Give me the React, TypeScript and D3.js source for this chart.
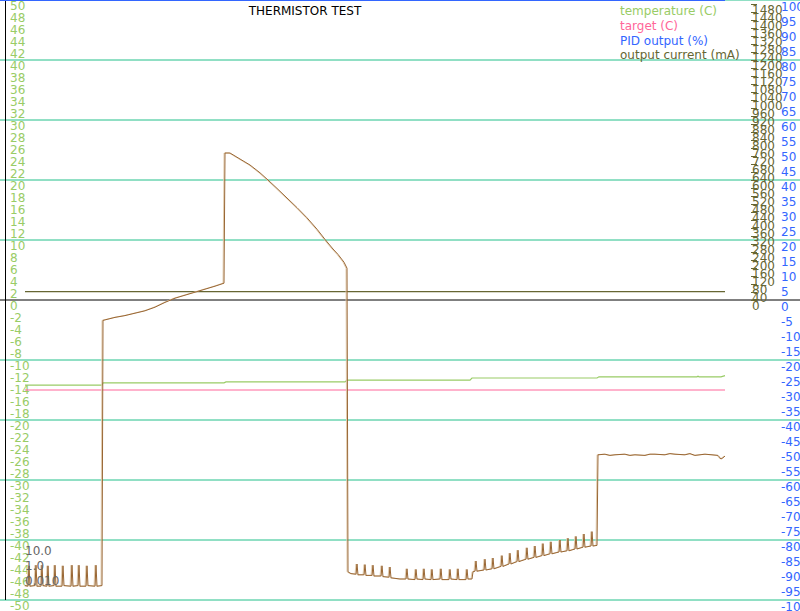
import React from "react";
import * as d3 from "d3";

// time axis is in samples, plotted 1:1 across the 800px canvas
const brownSeries: [number, number][] = [
  [25, -47.6], [28, -47.7], [29, -44.3], [30, -47.7], [35, -47.6], [36, -44.2], [37, -47.7],
  [41, -47.7], [42, -44.2], [43, -47.6], [47, -47.7], [48, -44.3], [49, -47.7],
  [54, -47.6], [55, -44.2], [56, -47.7], [62, -47.7], [63, -44.3], [64, -47.6],
  [71, -47.7], [72, -44.2], [73, -47.7], [78, -47.6], [79, -44.2], [80, -47.7],
  [86, -47.7], [87, -44.3], [88, -47.6], [95, -47.7], [96, -44.2], [97, -47.7], [102, -47.6],
  [103, -3.4], [115, -2.9], [125, -2.6], [135, -2.2], [145, -1.8], [155, -1.2], [165, -0.4],
  [175, 0.3], [185, 0.8], [195, 1.3], [205, 1.8], [215, 2.3], [224, 2.8],
  [225, 24.5], [230, 24.5], [240, 23.5], [250, 22.5], [260, 21.2], [268, 20.0], [277, 18.6],
  [287, 17.0], [297, 15.4], [307, 13.7], [317, 11.8], [325, 10.1], [333, 8.5], [338, 7.6],
  [344, 6.3], [347, 5.3],
  [348, -45.3], [351, -45.6], [356, -45.7], [357, -44.0], [358, -45.8], [364, -45.8], [365, -44.1],
  [366, -45.9], [372, -45.9], [373, -44.2], [374, -46.0], [381, -46.0], [382, -44.3], [383, -46.1],
  [389, -46.2], [390, -44.5], [391, -46.3], [400, -46.5], [406, -46.5], [407, -44.8], [408, -46.5],
  [415, -46.6], [416, -44.9], [417, -46.5], [423, -46.6], [424, -44.8], [425, -46.5],
  [431, -46.6], [432, -44.9], [433, -46.6], [440, -46.5], [441, -44.8], [442, -46.6],
  [449, -46.6], [450, -44.9], [451, -46.5], [457, -46.6], [458, -44.8], [459, -46.6],
  [466, -46.6], [467, -44.9], [468, -46.5], [472, -46.5], [473, -45.3],
  [475, -45.2], [476, -43.5], [477, -45.2], [484, -45.0], [485, -43.2], [486, -45.0],
  [492, -44.8], [493, -43.0], [494, -44.8], [501, -44.4], [502, -42.6], [503, -44.4],
  [509, -44.0], [510, -42.2], [511, -44.0], [517, -43.6], [518, -41.7], [519, -43.6],
  [526, -43.2], [527, -41.3], [528, -43.2], [534, -42.9], [535, -41.0], [536, -42.9],
  [542, -42.6], [543, -40.6], [544, -42.6], [550, -42.3], [551, -40.3], [552, -42.3],
  [559, -42.0], [560, -40.0], [561, -42.0], [567, -41.8], [568, -39.7], [569, -41.8],
  [575, -41.5], [576, -39.4], [577, -41.5], [583, -41.2], [584, -39.0], [585, -41.2],
  [591, -41.0], [592, -38.6], [593, -41.0], [597, -40.9],
  [598, -25.8], [605, -25.7], [610, -25.9], [615, -25.8], [625, -25.7], [630, -25.9], [635, -25.8],
  [645, -25.9], [650, -25.7], [655, -25.7], [665, -25.8], [670, -25.6], [675, -25.7], [685, -25.8],
  [690, -25.6], [695, -25.9], [705, -25.7], [712, -25.8], [718, -25.9], [721, -26.5], [723, -26.3],
  [725, -26.0],
];

const temperatureSeries: [number, number][] = [
  [25, -14.2], [102, -14.2], [103, -13.8], [224, -13.8], [226, -13.65], [345, -13.65],
  [347, -13.35], [470, -13.35], [472, -13.0], [597, -13.0], [599, -12.8], [697, -12.8],
  [698, -12.7], [699, -12.8], [721, -12.8], [725, -12.6],
];
const targetSeries: [number, number][] = [[25, -15], [725, -15]];
const pidSeries: [number, number][] = [[0, 100], [725, 100]];
const currentSeries: [number, number][] = [[25, 42], [725, 42]];

const tempTicks = d3.range(-50, 51, 2);
const gridTicks = [-50, -40, -30, -20, -10, 10, 20, 30, 40, 50];
const currentTicks = d3.range(0, 1481, 40);
const pidTicks = d3.range(-100, 101, 5);
const logLabels = ["10.0", "1.0", "0.010"];

const legend = [
  { label: "temperature (C)", color: "#99cc66" },
  { label: "target (C)", color: "#ff6699" },
  { label: "PID output (%)", color: "#3366ff" },
  { label: "output current (mA)", color: "#666633" },
];

const W = 800;
const H = 611;
const font = "DejaVu Sans, sans-serif";

export default function App() {
  const x = d3.scaleLinear().domain([0, 800]).range([0, W]);
  const yT = d3.scaleLinear().domain([-50, 50]).range([600, 0]);
  const yC = d3.scaleLinear().domain([0, 1500]).range([300, 0]);
  const yP = d3.scaleLinear().domain([-100, 100]).range([600, 0]);

  const lineT = d3.line<[number, number]>().x((d) => x(d[0])).y((d) => yT(d[1]));
  const lineC = d3.line<[number, number]>().x((d) => x(d[0])).y((d) => yC(d[1]));
  const lineP = d3.line<[number, number]>().x((d) => x(d[0])).y((d) => yP(d[1]));

  return (
    <div style={{ position: "fixed", left: 0, top: 0 }}>
      <svg width={W} height={H} style={{ display: "block", background: "#fff" }} fontFamily={font}>
        {/* grid */}
        {gridTicks.map((t) => (
          <line key={t} x1={0} x2={W} y1={yT(t)} y2={yT(t)} stroke="#22c08a" strokeWidth={1} />
        ))}
        <line x1={0} x2={W} y1={yT(0)} y2={yT(0)} stroke="#000" strokeWidth={1} />
        <line x1={5.5} x2={5.5} y1={0} y2={yT(-50)} stroke="#000" strokeWidth={1} />

        {/* left axis */}
        {tempTicks.map((t) => (
          <text key={t} x={10} y={yT(t) + 1} dominantBaseline="hanging" fontSize={12} fill="#99cc66">
            {t}
          </text>
        ))}

        {/* current axis */}
        {currentTicks.map((t) => (
          <g key={t}>
            <line x1={751} x2={757} y1={yC(t) + 0.5} y2={yC(t) + 0.5} stroke="#666633" />
            <text x={752} y={yC(t) + 1} dominantBaseline="hanging" fontSize={12} fill="#666633">
              {t}
            </text>
          </g>
        ))}

        {/* pid axis */}
        {pidTicks.map((t) => (
          <text key={t} x={781} y={yP(t) + 2} dominantBaseline="hanging" fontSize={12} fill="#3366ff">
            {t}
          </text>
        ))}

        {/* series */}
        <path d={lineT(targetSeries) ?? ""} fill="none" stroke="#ff6699" strokeWidth={1.2} />
        <path d={lineT(temperatureSeries) ?? ""} fill="none" stroke="#99cc66" strokeWidth={1.2} />
        <path d={lineC(currentSeries) ?? ""} fill="none" stroke="#666633" strokeWidth={1.2} />
        <path d={lineP(pidSeries) ?? ""} fill="none" stroke="#3366ff" strokeWidth={2} />
        <path d={lineT(brownSeries) ?? ""} fill="none" stroke="#e2cdb0" strokeWidth={1} transform="translate(-1,0)" />
        <path d={lineT(brownSeries) ?? ""} fill="none" stroke="#996633" strokeWidth={1} />

        {/* title */}
        <text x={305} y={15} textAnchor="middle" fontSize={12} fill="#000">
          THERMISTOR TEST
        </text>

        {/* legend */}
        {legend.map((l, i) => (
          <text key={l.label} x={620} y={15 + i * 14.8} fontSize={12} fill={l.color}>
            {l.label}
          </text>
        ))}

        {/* log labels */}
        {logLabels.map((l, i) => (
          <text key={l} x={25} y={555 + i * 15} fontSize={12} fill="#666">
            {l}
          </text>
        ))}
      </svg>
    </div>
  );
}
